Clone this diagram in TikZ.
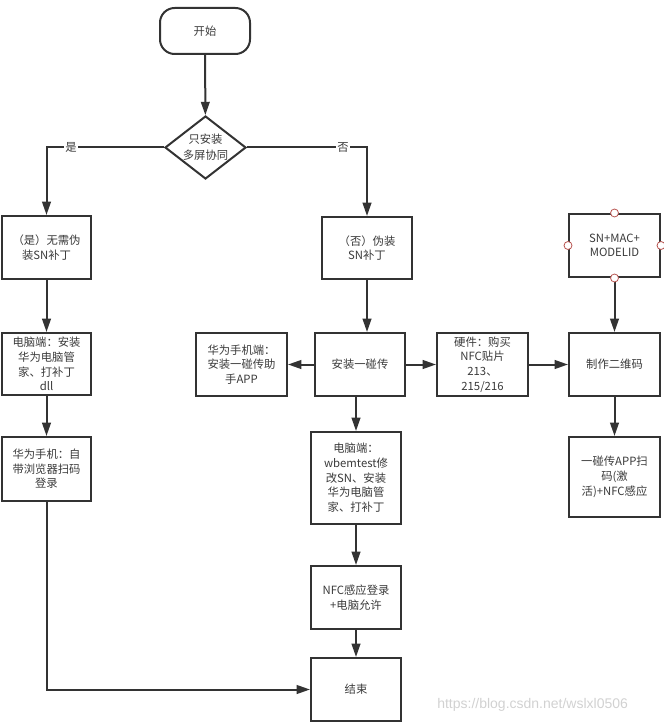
\documentclass[tikz,border=0pt]{standalone}
\usepackage{fontspec}
\setmainfont{Noto Sans CJK SC}
\newfontfamily\wmfont{Liberation Sans}
\usetikzlibrary{shapes.geometric,arrows.meta}
\definecolor{ln}{HTML}{333333}
\definecolor{tx}{HTML}{3A3A3A}
\definecolor{pt}{HTML}{B85450}
\tikzset{
  box/.style={draw=ln, line width=1.5pt, rectangle, align=center, inner sep=1pt,
    text=tx, font=\fontsize{8.5pt}{11pt}\selectfont, minimum width=67pt},
  arr/.style={draw=ln, line width=1.5pt, -{Triangle[length=10pt,width=6.5pt]}},
  ln/.style={draw=ln, line width=1.5pt},
  lbl/.style={fill=white, text=tx, font=\fontsize{8.5pt}{12pt}\selectfont, inner sep=1pt},
  pin/.style={circle, draw=pt, fill=white, line width=0.6pt, minimum size=6pt, inner sep=0pt},
}
\begin{document}
\begin{tikzpicture}[x=0.75pt,y=-0.75pt]
\useasboundingbox (0,0) rectangle (663,723);
% nodes
\node[box, rounded corners=11pt, minimum width=67.5pt, minimum height=34.5pt] (start) at (205,31) {开始};
\node[diamond, draw=ln, line width=1.5pt, minimum width=60.75pt, minimum height=47.25pt, inner sep=0pt] (dec) at (205.5,147.5) {};
\node[text=tx, align=center, font=\fontsize{8.5pt}{12pt}\selectfont] (dect) at (dec) {只安装\\多屏协同};

\node[box, minimum width=66.75pt, minimum height=47.25pt] (b1) at (46.5,247.5) {（是）无需伪\\装SN补丁};
\node[box, minimum width=66.75pt, minimum height=46.5pt] (b2) at (46.5,364) {电脑端：安装\\华为电脑管\\家、打补丁\\dll};
\node[box, minimum width=66.75pt, minimum height=48pt] (b3) at (46.5,469) {华为手机：自\\带浏览器扫码\\登录};

\node[box, minimum width=67.5pt, minimum height=46.5pt] (n1) at (367,248) {（否）伪装\\SN补丁};
\node[box, minimum width=67.5pt, minimum height=47.25pt] (c) at (360,364.5) {安装一碰传};
\node[box, minimum width=68.25pt, minimum height=47.25pt] (hw) at (241.5,364.5) {华为手机端：\\安装一碰传助\\手APP};
\node[box, minimum width=67.5pt, minimum height=69pt] (pc) at (356,478) {电脑端：\\wbemtest修\\改SN、安装\\华为电脑管\\家、打补丁};
\node[box, minimum width=67.5pt, minimum height=47.25pt] (nfc) at (356,597.5) {NFC感应登录\\+电脑允许};
\node[box, minimum width=67.5pt, minimum height=47.25pt] (end) at (356,689.5) {结束};

\node[box, minimum width=68.25pt, minimum height=47.25pt] (hard) at (482.5,364.5) {硬件：购买\\NFC贴片\\213、\\215/216};
\node[box, minimum width=68.25pt, minimum height=47.25pt] (qr) at (614.5,364.5) {制作二维码};
\node[box, minimum width=68.25pt, minimum height=47.25pt] (sn) at (614.5,245.5) {SN+MAC+\\MODELID};
\node[box, minimum width=68.25pt, minimum height=60pt] (app) at (614.5,477) {一碰传APP扫\\码(激\\活)+NFC感应};

% connectors
\coordinate (yl) at (46.5,147.5);
\coordinate (nl) at (367,147.5);
\coordinate (bl) at (46.5,689.5);
\draw[arr] (start) -- (dec);
\draw[arr] (dec.west) -- (yl) -- (b1.north);
\node[lbl] (yes) at (71,147.5) {是};
\draw[arr] (dec.east) -- (nl) -- (n1.north);
\node[lbl] (no) at (343,147.5) {否};
\draw[arr] (b1) -- (b2);
\draw[arr] (b2) -- (b3);
\draw[arr] (b3.south) -- (bl) -- (end.west);
\draw[arr] (n1.south) -- (n1.south |- c.north);
\draw[arr] (c.west) -- (hw.east);
\draw[arr] (c.east) -- (hard.west);
\draw[arr] (pc.north |- c.south) -- (pc.north);
\draw[arr] (pc) -- (nfc);
\draw[arr] (nfc) -- (end);
\draw[arr] (hard.east) -- (qr.west);
\draw[arr] (sn) -- (qr);
\draw[arr] (qr) -- (app);

% connection points on SN box
\node[pin] (p1) at (sn.north) {};
\node[pin] (p2) at (sn.south) {};
\node[pin] (p3) at (sn.west) {};
\node[pin] (p4) at (sn.east) {};

% watermark
\node[text=black!18, font=\wmfont\fontsize{10.5pt}{12pt}\selectfont, anchor=west, inner sep=0pt] (wm) at (437,705) {https://blog.csdn.net/wslxl0506};
\end{tikzpicture}
\end{document}
